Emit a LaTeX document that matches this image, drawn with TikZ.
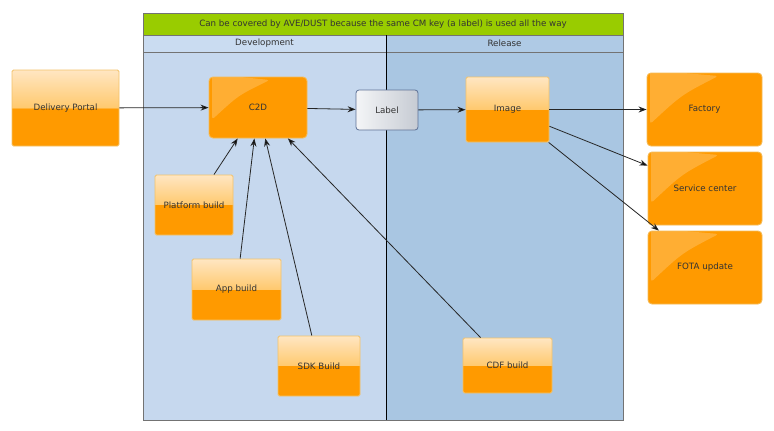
\documentclass[tikz,border=0pt]{standalone}
\usepackage{fontspec}
\setmainfont{DejaVu Sans}
\usetikzlibrary{arrows.meta,calc}

\definecolor{orng}{HTML}{FF9A00}
\definecolor{peachlo}{HTML}{FFC96E}
\definecolor{peachhi}{HTML}{FFE6C2}
\definecolor{boxline}{HTML}{F3C26A}
\definecolor{devbg}{HTML}{C6D8EE}
\definecolor{relbg}{HTML}{A9C6E2}
\definecolor{devhead}{HTML}{CADCF1}
\definecolor{relhead}{HTML}{AFCAE5}
\definecolor{topbar}{HTML}{99CC00}
\definecolor{txt}{HTML}{333333}
\definecolor{lblline}{HTML}{5E7196}
\definecolor{lblleft}{HTML}{F4F5F7}
\definecolor{lblright}{HTML}{C6CBD3}

\pgfdeclareverticalshading{halfshade}{100bp}{color(0bp)=(orng); color(50bp)=(orng); color(50bp)=(peachlo); color(75bp)=(peachhi); color(100bp)=(peachhi)}

\begin{document}
\begin{tikzpicture}[x=1pt,y=-1pt,>={Stealth[length=8pt,width=6pt]},
		every node/.style={font=\fontsize{8.7}{10}\selectfont,text=txt,inner sep=0pt},
		halfbox/.style={draw=boxline,line width=0.9pt,rounded corners=1.5pt,shading=halfshade},
		glossbox/.style={draw=boxline!80!orng,line width=0.9pt,rounded corners=4pt,fill=orng,
			path picture={\fill[white,opacity=.2,rounded corners=3pt]
				([shift={(3pt,3pt)}]path picture bounding box.north west)
				-- ($(path picture bounding box.north west)!0.62!(path picture bounding box.north east)+(0,3)$)
				.. controls ($(path picture bounding box.north west)!0.3!(path picture bounding box.south east)$)
				.. ($(path picture bounding box.north west)!0.7!(path picture bounding box.south west)+(3,0)$) -- cycle;}},
		labelbox/.style={draw=lblline,line width=0.8pt,rounded corners=3pt,left color=lblleft,right color=lblright}]
		\useasboundingbox (0,0) rectangle (774,431);
		% columns
		\fill[devbg] (143,52) rectangle (386,420);
		\fill[relbg] (386,52) rectangle (623,420);
		\node[fill=devhead,minimum width=243pt,minimum height=17pt] (dev) at (264.5,43.5) {Development};
		\node[fill=relhead,minimum width=237pt,minimum height=17pt] (rel) at (504.5,43.5) {Release};
		\node[fill=topbar,minimum width=480pt,minimum height=22pt] (top) at (383,24) {Can be covered by AVE/DUST because the same CM key (a label) is used all the way};
		\draw[black!55,line width=0.9pt] (143,13) rectangle (623,420) (143,35) -- (623,35) (143,52) -- (623,52);
		\draw[black,line width=0.7pt] (386,35) -- (386,420);
		% boxes
		\node[halfbox,minimum width=107pt,minimum height=76pt] (dp) at (65.5,108) {Delivery Portal};
		\node[glossbox,minimum width=98pt,minimum height=61pt] (c2d) at (258,107.5) {C2D};
		\node[halfbox,minimum width=78pt,minimum height=60pt] (pb) at (194,205) {Platform build};
		\node[halfbox,minimum width=89pt,minimum height=61pt] (app) at (236.5,289.5) {App build};
		\node[halfbox,minimum width=82pt,minimum height=60pt] (sdk) at (319,366) {SDK Build};
		\node[labelbox,minimum width=62pt,minimum height=40pt] (lbl) at (387,110) {Label};
		\node[halfbox,minimum width=83pt,minimum height=65pt] (img) at (507.5,109.5) {Image};
		\node[halfbox,minimum width=89pt,minimum height=55pt] (cdf) at (507.5,365.5) {CDF build};
		\node[glossbox,minimum width=115pt,minimum height=73pt] (fac) at (704.5,109.5) {Factory};
		\node[glossbox,minimum width=114pt,minimum height=73pt] (svc) at (705,188.5) {Service center};
		\node[glossbox,minimum width=114pt,minimum height=73pt] (fota) at (705,267.5) {FOTA update};
		% arrows
		\path[->,draw=black!85,line width=0.8pt]
		(dp) edge (c2d)
		(c2d) edge (lbl)
		(lbl) edge (img)
		(img) edge (fac)
		(img) edge (svc)
		(img) edge (fota)
		(pb) edge (c2d)
		(app) edge (c2d)
		(sdk) edge (c2d)
		(cdf) edge (c2d);
\end{tikzpicture}
\end{document}
